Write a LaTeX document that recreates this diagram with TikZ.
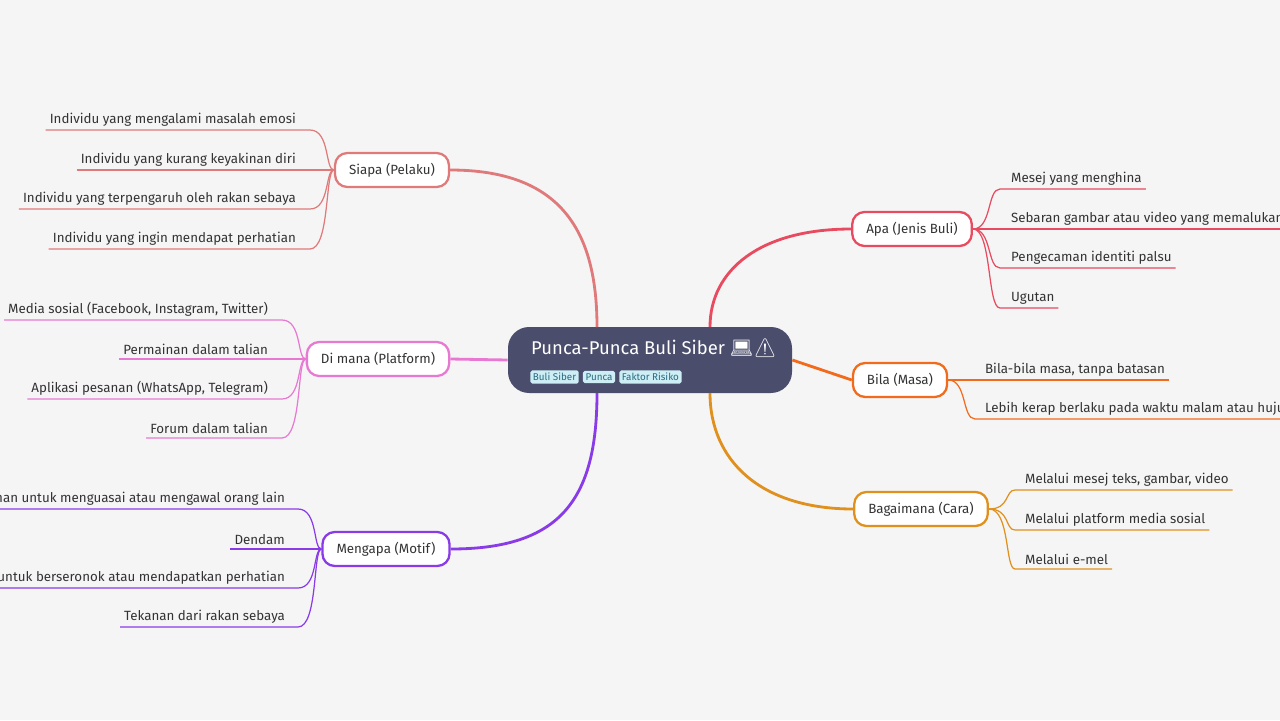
\documentclass[tikz,border=0pt]{standalone}
\usepackage{fontspec}
\setmainfont{Fira Sans}
\newfontfamily\emojifont{Noto Emoji}
\usetikzlibrary{positioning,calc}
\definecolor{bgcol}{HTML}{F5F5F5}
\definecolor{rootcol}{HTML}{4A4D6B}
\definecolor{tagfill}{HTML}{CDEEF5}
\definecolor{tagtext}{HTML}{2A6A80}
\definecolor{cSiapa}{HTML}{E07A7A}
\definecolor{cDimana}{HTML}{E879D3}
\definecolor{cMengapa}{HTML}{8A3BE8}
\definecolor{cApa}{HTML}{E84A5F}
\definecolor{cBila}{HTML}{F26B1D}
\definecolor{cCara}{HTML}{E0901D}
\tikzset{
    root/.style={fill=rootcol, rounded corners=12pt, minimum width=284*0.02cm, minimum height=66*0.02cm},
    branch/.style={draw=#1, line width=1.3pt, fill=white, rounded corners=7pt, minimum height=34*0.02cm, inner xsep=8pt, font=\fontsize{7.6}{10}\selectfont, text=black!80},
    tag/.style={fill=tagfill, text=tagtext, rounded corners=1pt, inner sep=1.5pt, font=\fontsize{5.6}{7}\selectfont},
    leaf/.style={inner sep=1pt, font=\fontsize{7.6}{10}\selectfont, text=black!80},
    link/.style={draw=#1, line width=1.6pt},
    twig/.style={draw=#1, line width=0.7pt}
}
\begin{document}
\begin{tikzpicture}[x=0.02cm, y=-0.02cm]
\clip (0,0) rectangle (1280,720);
\fill[bgcol] (0,0) rectangle (1280,720);

% central topic
\node[root] (root) at (650,360) {};
\node[text=white, font=\fontsize{10.5}{12}\selectfont, anchor=west] (title) at (525,348) {Punca-Punca Buli Siber {\emojifont 💻⚠}};
\node[tag, anchor=west] (t1) at (530,377) {Buli Siber};
\node[tag, right=2pt of t1] (t2) {Punca};
\node[tag, right=2pt of t2] (t3) {Faktor Risiko};

% main branches
\node[branch=cSiapa] (siapa) at (392,170) {Siapa (Pelaku)};
\node[branch=cDimana] (dimana) at (378,359) {Di mana (Platform)};
\node[branch=cMengapa] (mengapa) at (386,549) {Mengapa (Motif)};
\node[branch=cApa] (apa) at (912,229) {Apa (Jenis Buli)};
\node[branch=cBila] (bila) at (900,380) {Bila (Masa)};
\node[branch=cCara] (cara) at (921,509) {Bagaimana (Cara)};

\draw[link=cSiapa] (597,327) .. controls (597,230) and (560,170) .. (siapa.east);
\draw[link=cDimana] (root.west) -- (dimana.east);
\draw[link=cMengapa] (597,393) .. controls (597,500) and (560,549) .. (mengapa.east);
\draw[link=cApa] (710,327) .. controls (710,270) and (760,229) .. (apa.west);
\draw[link=cBila] (root.east) -- (bila.west);
\draw[link=cCara] (710,393) .. controls (710,460) and (760,509) .. (cara.west);

% left leaves
\foreach \y/\txt [count=\i] in {130/Individu yang mengalami masalah emosi, 170/Individu yang kurang keyakinan diri, 209/Individu yang terpengaruh oleh rakan sebaya, 249/Individu yang ingin mendapat perhatian}{
  \node[leaf, anchor=south east] (s\i) at (298,\y-2) {\txt};
  \draw[twig=cSiapa] ($(s\i.south west)+(-2,2)$) -- (310,\y) .. controls (330,\y) and (325,170) .. (siapa.west);
}
\foreach \y/\txt [count=\i] in {320/{Media sosial (Facebook, Instagram, Twitter)}, 359/Permainan dalam talian, 399/{Aplikasi pesanan (WhatsApp, Telegram)}, 438/Forum dalam talian}{
  \node[leaf, anchor=south east] (d\i) at (270,\y-2) {\txt};
  \draw[twig=cDimana] ($(d\i.south west)+(-2,2)$) -- (282,\y) .. controls (302,\y) and (297,359) .. (dimana.west);
}
\foreach \y/\txt [count=\i] in {509/Keinginan untuk menguasai atau mengawal orang lain, 549/Dendam, 588/Keinginan untuk berseronok atau mendapatkan perhatian, 627/Tekanan dari rakan sebaya}{
  \node[leaf, anchor=south east] (m\i) at (287,\y-2) {\txt};
  \draw[twig=cMengapa] ($(m\i.south west)+(-2,2)$) -- (298,\y) .. controls (318,\y) and (313,549) .. (mengapa.west);
}

% right leaves
\foreach \y/\txt [count=\i] in {189/Mesej yang menghina, 229/Sebaran gambar atau video yang memalukan, 268/Pengecaman identiti palsu, 308/Ugutan}{
  \node[leaf, anchor=south west] (a\i) at (1009,\y-2) {\txt};
  \draw[twig=cApa] (apa.east) .. controls (992,229) and (987,\y) .. (1000,\y) -- ($(a\i.south east)+(2,2)$);
}
\foreach \y/\txt [count=\i] in {380/{Bila-bila masa, tanpa batasan}, 419/Lebih kerap berlaku pada waktu malam atau hujung minggu}{
  \node[leaf, anchor=south west] (b\i) at (983,\y-2) {\txt};
  \draw[twig=cBila] (bila.east) .. controls (967,380) and (962,\y) .. (975,\y) -- ($(b\i.south east)+(2,2)$);
}
\foreach \y/\txt [count=\i] in {490/{Melalui mesej teks, gambar, video}, 530/Melalui platform media sosial, 569/Melalui e-mel}{
  \node[leaf, anchor=south west] (c\i) at (1023,\y-2) {\txt};
  \draw[twig=cCara] (cara.east) .. controls (1010,509) and (1005,\y) .. (1015,\y) -- ($(c\i.south east)+(2,2)$);
}
\end{tikzpicture}
\end{document}
